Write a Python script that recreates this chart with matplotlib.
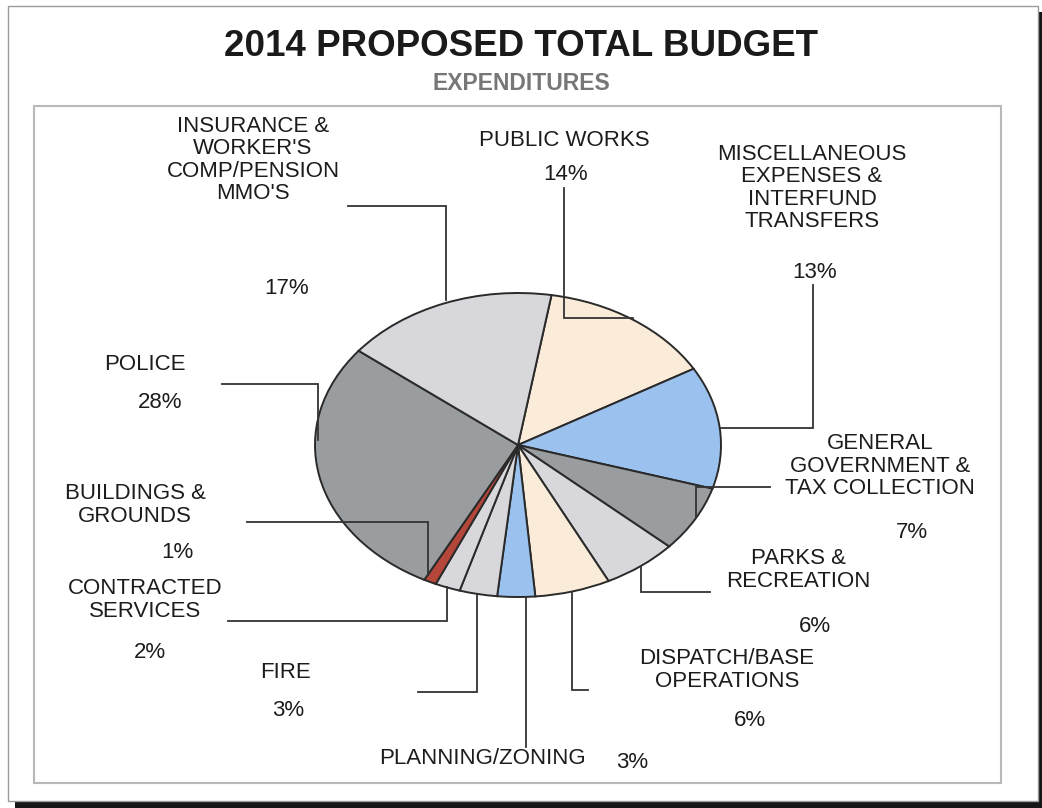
import matplotlib
matplotlib.use("Agg")
import matplotlib.pyplot as plt
from matplotlib.patches import Rectangle

plt.rcParams['font.family'] = ['Liberation Sans', 'DejaVu Sans']

# budget shares, clockwise from the top of the pie
categories = ["PUBLIC WORKS", "MISCELLANEOUS\nEXPENSES &\nINTERFUND\nTRANSFERS",
              "GENERAL\nGOVERNMENT &\nTAX COLLECTION", "PARKS &\nRECREATION",
              "DISPATCH/BASE\nOPERATIONS", "PLANNING/ZONING", "FIRE",
              "CONTRACTED\nSERVICES", "BUILDINGS &\nGROUNDS", "POLICE",
              "INSURANCE &\nWORKER'S\nCOMP/PENSION\nMMO'S"]
shares = [14, 13, 7, 6, 6, 3, 3, 2, 1, 28, 17]
pct_labels = ["%d%%" % s for s in shares]

colors = ["#fbecd9", "#9bc2ee", "#9a9d9f", "#d8d8dc", "#fbecd9", "#9bc2ee",
          "#d8d8dc", "#d8d8dc", "#b5473a", "#9a9d9f", "#d8d8dc"]

# label placement in pixels: (name xy, percent xy, leader polyline)
layout = [
    ((564, 140), (566, 175), [(564, 188), (564, 318), (633, 318)]),
    ((812, 188), (815, 273), [(813, 285), (813, 428), (721, 428)]),
    ((880, 466), (912, 533), [(770, 487), (696, 487), (696, 517)]),
    ((798, 570), (815, 627), [(641, 567), (641, 592), (710, 592)]),
    ((727, 670), (750, 720), [(572, 592), (572, 690), (588, 690)]),
    ((482, 758), (632, 762), [(526, 597), (526, 747)]),
    ((285, 672), (288, 710), [(477, 595), (477, 692), (418, 692)]),
    ((145, 600), (150, 652), [(447, 587), (447, 621), (228, 621)]),
    ((135, 505), (177, 552), [(428, 575), (428, 522), (247, 522)]),
    ((145, 365), (160, 403), [(318, 440), (318, 384), (222, 384)]),
    ((253, 160), (287, 288), [(446, 300), (446, 206), (348, 206)]),
]

W, H = 1042, 808
fig = plt.figure(figsize=(W / 100, H / 100), dpi=100)

# page, drop shadow and plot-area frame
bg = fig.add_axes([0, 0, 1, 1], zorder=0)
bg.set_xlim(0, W)
bg.set_ylim(H, 0)
bg.axis("off")
bg.add_patch(Rectangle((15, 12), W - 15, H - 12, facecolor="#161616", edgecolor="none"))
bg.add_patch(Rectangle((8, 6), 1030, 795, facecolor="white", edgecolor="#9a9a9a", lw=1))
bg.add_patch(Rectangle((34, 106), 967, 677, facecolor="white", edgecolor="#b8b8b8", lw=1.5))

# elliptical pie: circle pie in an axes with free aspect
cx0, cy0, cx1, cy1 = 315, 293, 721, 597
pie_ax = fig.add_axes([cx0 / W, 1 - cy1 / H, (cx1 - cx0) / W, (cy1 - cy0) / H], zorder=1)
wedges, _ = pie_ax.pie(shares, colors=colors, startangle=80.5, counterclock=False,
                       wedgeprops=dict(edgecolor="#2a2a2a", linewidth=1.4, clip_on=False))
pie_ax.set_aspect("auto")
pie_ax.set_xlim(-1, 1)
pie_ax.set_ylim(-1, 1)
pie_ax.axis("off")

fg = fig.add_axes([0, 0, 1, 1], zorder=2)
fg.set_xlim(0, W)
fg.set_ylim(H, 0)
fg.axis("off")
fg.patch.set_alpha(0)

fg.text(521, 47, "2014 PROPOSED TOTAL BUDGET", ha="center", va="center",
        fontsize=26.5, fontweight="bold", color="#1a1a1a")
fg.text(521, 84, "EXPENDITURES", ha="center", va="center",
        fontsize=16.5, fontweight="bold", color="#777777")

for name, pct, (name_xy, pct_xy, leader) in zip(categories, pct_labels, layout):
    fg.text(name_xy[0], name_xy[1], name, ha="center", va="center", fontsize=16,
            color="#1c1c1c", linespacing=1.08)
    fg.text(pct_xy[0], pct_xy[1], pct, ha="center", va="center", fontsize=16,
            color="#1c1c1c")
    xs, ys = zip(*leader)
    fg.plot(xs, ys, color="#333333", lw=1.3, solid_joinstyle="miter")

fig.savefig("out.png", dpi=100)
